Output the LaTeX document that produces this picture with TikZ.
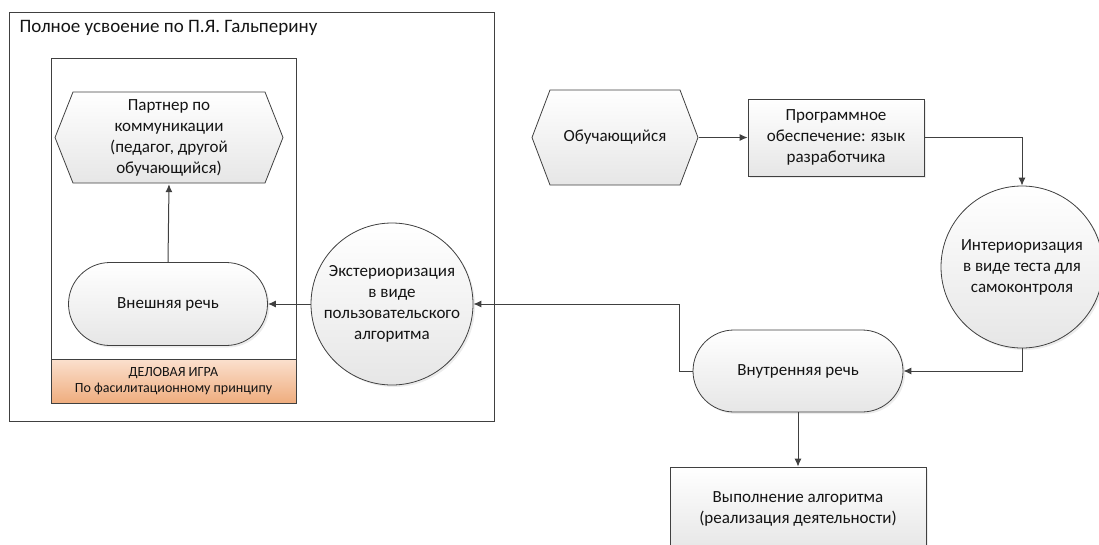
\documentclass[tikz,border=0pt]{standalone}
\usepackage{fontspec}
\setmainfont{Carlito}
\usetikzlibrary{positioning,fit,shapes.misc,arrows.meta,shadows}

\definecolor{linegray}{HTML}{404040}
\definecolor{fillgray}{HTML}{E6E6E6}
\definecolor{bandtop}{HTML}{FBE0CE}
\definecolor{bandbot}{HTML}{EFAD7E}
\definecolor{textgray}{HTML}{141414}

\begin{document}
\begin{tikzpicture}[x=1pt,y=-1pt,on grid,
		>={Latex[length=8pt,width=7pt]},
		every node/.style={font=\fontsize{17}{21}\selectfont, text=textgray, align=center},
		conn/.style={->, draw=linegray, line width=1pt},
		shaded/.style={draw=linegray, line width=0.8pt, top color=white, bottom color=fillgray,
			drop shadow={opacity=0.15, shadow xshift=2pt, shadow yshift=-2pt}},
		box/.style={shaded, rectangle, inner sep=0pt},
		speech/.style={shaded, rounded rectangle, inner sep=0pt},
		stage/.style={shaded, circle, inner sep=0pt},
		hexbox/.style={rectangle, inner sep=0pt, path picture={
			\draw[draw=linegray, line width=0.8pt, top color=white, bottom color=fillgray]
				([xshift=1pt]path picture bounding box.west)
				-- ([xshift=19pt,yshift=-1pt]path picture bounding box.north west)
				-- ([xshift=-19pt,yshift=-1pt]path picture bounding box.north east)
				-- ([xshift=-1pt]path picture bounding box.east)
				-- ([xshift=-19pt,yshift=1pt]path picture bounding box.south east)
				-- ([xshift=19pt,yshift=1pt]path picture bounding box.south west) -- cycle;}},
		frame/.style={draw=linegray, line width=0.8pt, inner sep=0pt},
		band/.style={draw=linegray, line width=0.8pt, inner sep=0pt, top color=bandtop, bottom color=bandbot}
	]
	
	\useasboundingbox (0,0) rectangle (1099,544);
	\clip (0,0) rectangle (1099,544);
	
	% frames
	\coordinate (f_0) at (9,12);
	\coordinate (f_1) at (494,421);
	\node[frame, fit={(f_0) (f_1)}] (outer) {};
	\node[anchor=west, font=\fontsize{19}{23}\selectfont] (title) at (16,28) {Полное усвоение по П.Я. Гальперину};
	
	\coordinate (g_0) at (51,58);
	\coordinate (g_1) at (296,403);
	\node[frame, fit={(g_0) (g_1)}] (game) {};
	\coordinate (b_0) at (51,359);
	\node[band, fit={(b_0) (g_1)}] (game_band) {};
	\node (game_label) at (game_band.center) [font=\fontsize{14}{16}\selectfont] {ДЕЛОВАЯ ИГРА\\По фасилитационному принципу};
	
	% left part
	\node[hexbox, minimum width=230pt, minimum height=93pt] (partner) at (169,137.5) {Партнер по\\коммуникации\\(педагог, другой\\обучающийся)};
	\node[speech, minimum width=199pt, minimum height=83pt] (speech_out) [below=166.5pt of partner, xshift=-1pt] {Внешняя речь};
	\node[stage, minimum size=162pt] (ext) [right=224pt of speech_out] {Экстериоризация\\в виде\\пользовательского\\алгоритма};
	
	% right part
	\node[hexbox, minimum width=168pt, minimum height=97pt] (learner) at (615,137.5) {Обучающийся};
	\node[box, minimum width=176pt, minimum height=77pt] (soft) [right=221pt of learner] {Программное\\обеспечение: язык\\разработчика};
	\node[stage, minimum size=162pt] (intr) at (1022,267) {Интериоризация\\в виде теста для\\самоконтроля};
	\node[speech, minimum width=210pt, minimum height=82pt] (speech_in) at (798,371) {Внутренняя речь};
	\node[box, minimum width=256pt, minimum height=84pt] (exec) [below=138pt of speech_in] {Выполнение алгоритма\\(реализация деятельности)};
	
	\draw[conn] (learner.east) -- (soft.west);
	\draw[conn] (soft.east) -| (intr.north);
	\draw[conn] (intr.south) |- (speech_in.east);
	\draw[conn] (speech_in.south) -- (exec.north);
	\draw[conn] (speech_in.west) -- ++(-13,0) |- (ext.east);
	\draw[conn] (ext.west) -- (speech_out.east);
	\draw[conn] (speech_out.north) -- (partner.south);
\end{tikzpicture}
\end{document}
